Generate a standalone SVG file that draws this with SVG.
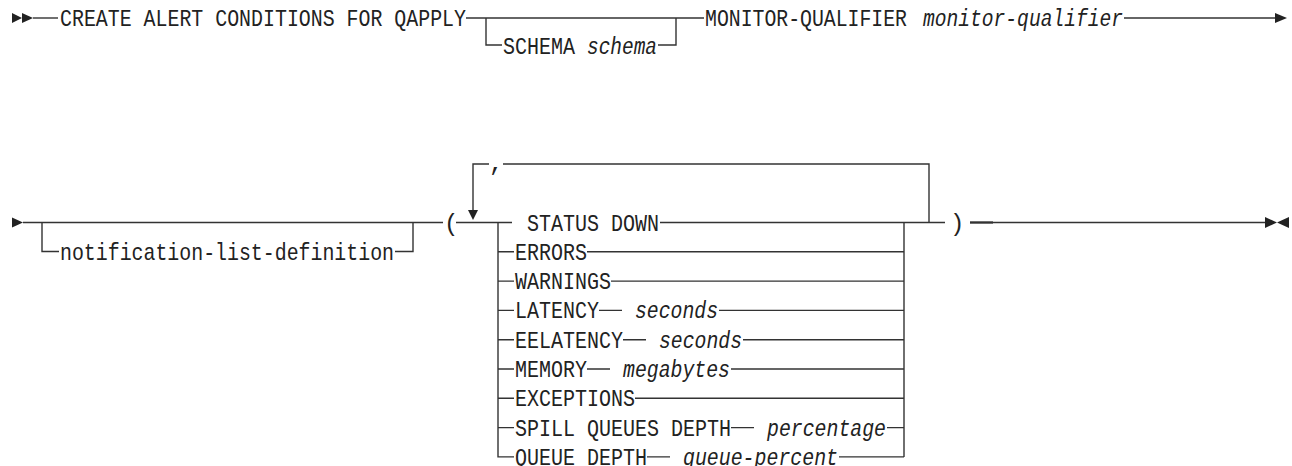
<svg xmlns="http://www.w3.org/2000/svg" width="1292" height="466" viewBox="0 0 1292 466">
<style>
.bg{fill:#ffffff}
.ln{fill:none;stroke:#333;stroke-width:1.4}
.ar{fill:#222;stroke:none}
text{font-family:"Liberation Mono","DejaVu Sans Mono",monospace;font-size:24px;fill:#222}
.i{font-style:italic}
</style>
<rect class="bg" x="0" y="0" width="1292" height="466"/>
<g id="connectors">
  <polygon class="ar" points="12,13 22,18 12,23"/>
  <polygon class="ar" points="22,13 33,18 22,23"/>
  <path class="ln" d="M33,18 H58"/>
  <path class="ln" d="M466,18 H704"/>
  <path class="ln" d="M486,18 V45 H502"/>
  <path class="ln" d="M658,45 H676 V18"/>
  <path class="ln" d="M1124,18 H1277"/>
  <polygon class="ar" points="1275,13 1287,18 1275,23"/>
  <polygon class="ar" points="12,217.5 23,222.5 12,227.5"/>
  <path class="ln" d="M23,222.5 H443"/>
  <path class="ln" d="M42,222.5 V251.5 H59"/>
  <path class="ln" d="M395,251.5 H413 V222.5"/>
  <path class="ln" d="M456,222.5 H512"/>
  <path class="ln" d="M473,214 V164 H489"/>
  <path class="ln" d="M503,164 H929 V222.5"/>
  <polygon class="ar" points="468,210 478,210 473,220"/>
  <path class="ln" d="M498,222.5 V456.9 H514"/>
  <path class="ln" d="M904,222.5 V456.9"/>
  <path class="ln" d="M660,222.5 H945"/>
  <path class="ln" d="M498,251.8 H514 M587,251.8 H904"/>
  <path class="ln" d="M498,281.1 H514 M611,281.1 H904"/>
  <path class="ln" d="M498,310.4 H514 M599,310.4 H622 M719,310.4 H904"/>
  <path class="ln" d="M498,339.7 H514 M623,339.7 H646 M743,339.7 H904"/>
  <path class="ln" d="M498,369 H514 M587,369 H610 M731,369 H904"/>
  <path class="ln" d="M498,398.3 H514 M635,398.3 H904"/>
  <path class="ln" d="M498,427.6 H514 M731,427.6 H754 M887,427.6 H904"/>
  <path class="ln" d="M647,456.9 H670 M839,456.9 H904"/>
  <path class="ln" d="M970,222.5 H1266"/>
  <path class="ln" style="stroke-width:2.2" d="M970,222.5 H993"/>
  <polygon class="ar" points="1265,217 1277,222.5 1265,228"/>
  <polygon class="ar" points="1289,217 1277,222.5 1289,228"/>
</g>
<g id="n-create"><text x="60" y="26" textLength="406" lengthAdjust="spacingAndGlyphs">CREATE ALERT CONDITIONS FOR QAPPLY</text></g>
<g id="n-schema"><text x="503" y="53.5" textLength="72" lengthAdjust="spacingAndGlyphs">SCHEMA</text><text class="i" x="587" y="53.5" textLength="70" lengthAdjust="spacingAndGlyphs">schema</text></g>
<g id="n-monitor"><text x="705" y="26" textLength="202" lengthAdjust="spacingAndGlyphs">MONITOR-QUALIFIER</text><text class="i" x="923" y="26" textLength="200" lengthAdjust="spacingAndGlyphs">monitor-qualifier</text></g>
<g id="n-notification"><text x="60" y="259.5" textLength="334" lengthAdjust="spacingAndGlyphs">notification-list-definition</text></g>
<g id="n-lparen"><text x="444" y="230.5">(</text></g>
<g id="n-comma"><text x="489" y="171">,</text></g>
<g id="n-status"><text x="527" y="230.5" textLength="132" lengthAdjust="spacingAndGlyphs">STATUS DOWN</text></g>
<g id="n-errors"><text x="515" y="259.8" textLength="72" lengthAdjust="spacingAndGlyphs">ERRORS</text></g>
<g id="n-warnings"><text x="515" y="289.1" textLength="96" lengthAdjust="spacingAndGlyphs">WARNINGS</text></g>
<g id="n-latency"><text x="515" y="318.4" textLength="84" lengthAdjust="spacingAndGlyphs">LATENCY</text><text class="i" x="635" y="318.4" textLength="83" lengthAdjust="spacingAndGlyphs">seconds</text></g>
<g id="n-eelatency"><text x="515" y="347.7" textLength="108" lengthAdjust="spacingAndGlyphs">EELATENCY</text><text class="i" x="659" y="347.7" textLength="83" lengthAdjust="spacingAndGlyphs">seconds</text></g>
<g id="n-memory"><text x="515" y="377" textLength="72" lengthAdjust="spacingAndGlyphs">MEMORY</text><text class="i" x="623" y="377" textLength="107" lengthAdjust="spacingAndGlyphs">megabytes</text></g>
<g id="n-exceptions"><text x="515" y="406.3" textLength="120" lengthAdjust="spacingAndGlyphs">EXCEPTIONS</text></g>
<g id="n-spill"><text x="515" y="435.6" textLength="216" lengthAdjust="spacingAndGlyphs">SPILL QUEUES DEPTH</text><text class="i" x="767" y="435.6" textLength="119" lengthAdjust="spacingAndGlyphs">percentage</text></g>
<g id="n-queue"><text x="515" y="464.9" textLength="132" lengthAdjust="spacingAndGlyphs">QUEUE DEPTH</text><text class="i" x="683" y="464.9" textLength="155" lengthAdjust="spacingAndGlyphs">queue-percent</text></g>
<g id="n-rparen"><text x="950" y="230.5">)</text></g>
</svg>
